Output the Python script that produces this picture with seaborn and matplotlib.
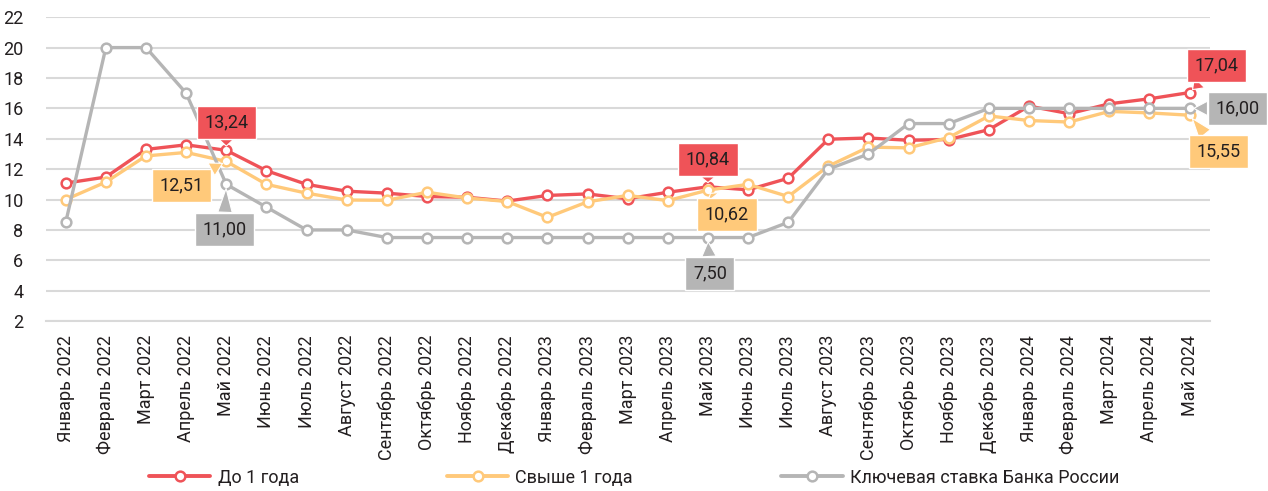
import numpy as np
import pandas as pd
import seaborn as sns
import matplotlib
matplotlib.use("Agg")
import matplotlib.pyplot as plt
from matplotlib.lines import Line2D

# ---------------------------------------------------------------- data
months = ["Январь 2022", "Февраль 2022", "Март 2022", "Апрель 2022", "Май 2022",
          "Июнь 2022", "Июль 2022", "Август 2022", "Сентябрь 2022", "Октябрь 2022",
          "Ноябрь 2022", "Декабрь 2022", "Январь 2023", "Февраль 2023", "Март 2023",
          "Апрель 2023", "Май 2023", "Июнь 2023", "Июль 2023", "Август 2023",
          "Сентябрь 2023", "Октябрь 2023", "Ноябрь 2023", "Декабрь 2023",
          "Январь 2024", "Февраль 2024", "Март 2024", "Апрель 2024", "Май 2024"]

short_term = [11.08, 11.48, 13.30, 13.60, 13.24, 11.90, 11.00, 10.55, 10.42, 10.20,
              10.15, 9.90, 10.27, 10.37, 10.05, 10.48, 10.84, 10.64, 11.40, 13.97,
              14.05, 13.90, 13.95, 14.60, 16.15, 15.65, 16.30, 16.63, 17.04]

long_term = [10.00, 11.15, 12.87, 13.10, 12.51, 11.00, 10.42, 9.97, 9.95, 10.48,
             10.10, 9.87, 8.83, 9.85, 10.27, 9.93, 10.62, 11.00, 10.20, 12.20,
             13.45, 13.40, 14.08, 15.50, 15.20, 15.10, 15.80, 15.70, 15.55]

key_rate = [8.5, 20.0, 20.0, 17.0, 11.0, 9.5, 8.0, 8.0, 7.5, 7.5,
            7.5, 7.5, 7.5, 7.5, 7.5, 7.5, 7.5, 7.5, 8.5, 12.0,
            13.0, 15.0, 15.0, 16.0, 16.0, 16.0, 16.0, 16.0, 16.0]

series_names = ["До 1 года", "Свыше 1 года", "Ключевая ставка Банка России"]
yticks = list(range(2, 23, 2))

# callouts: series index, month index, text, offset in pixels
callouts = [
    (0, 4, "13,24", 0, 28), (1, 4, "12,51", -45, -24), (2, 4, "11,00", -2, -45),
    (0, 16, "10,84", 0, 27), (1, 16, "10,62", 19, -24), (2, 16, "7,50", 2, -36),
    (0, 28, "17,04", 27, 27), (2, 28, "16,00", 48, 0), (1, 28, "15,55", 29, -36),
]

# ---------------------------------------------------------------- style
sns.set_theme(style="white")
plt.rcParams["font.family"] = ["Roboto", "DejaVu Sans"]

colors = ["#EF5358", "#FFC97A", "#B5B5B5"]
text_color = "#231F20"
grid_color = "#D9D9D9"

df = pd.DataFrame({"x": np.arange(len(months)),
                   series_names[0]: short_term,
                   series_names[1]: long_term,
                   series_names[2]: key_rate})

fig, ax = plt.subplots(figsize=(12.68, 4.91), dpi=100)
fig.subplots_adjust(left=0.036, right=0.954, top=0.965, bottom=0.346)

for name, col in zip(series_names, colors):
    sns.lineplot(data=df, x="x", y=name, ax=ax, color=col, lw=2.4,
                 marker="o", markersize=7, markerfacecolor="white",
                 markeredgecolor=col, markeredgewidth=1.8, zorder=3)

vals = [short_term, long_term, key_rate]
for si, mi, txt, dx, dy in callouts:
    col = colors[si]
    ax.annotate(txt, xy=(mi, vals[si][mi]), xytext=(dx, dy),
                textcoords="offset pixels", ha="center", va="center",
                fontsize=13, color=text_color, zorder=5,
                bbox=dict(boxstyle="square,pad=0.42", fc=col, ec="white", lw=1),
                arrowprops=dict(arrowstyle="wedge,tail_width=0.8,shrink_factor=0.5",
                                fc=col, ec="white", lw=0.8, shrinkA=0, shrinkB=3))

# axes
ax.set_xlim(-0.5, len(months) - 0.5)
ax.set_ylim(2, 22)
ax.set_yticks(yticks)
ax.set_yticklabels([str(v) for v in yticks], fontsize=13, color=text_color)
ax.set_xticks(np.arange(len(months)))
ax.set_xticklabels(months, rotation=90, fontsize=13, color=text_color)
ax.set_xticks(np.arange(len(months) + 1) - 0.5, minor=True)
ax.tick_params(axis="x", which="major", length=0, pad=10)
ax.tick_params(axis="x", which="minor", length=10, width=1,
               direction="inout", color=grid_color)
ax.tick_params(axis="y", length=0, pad=16)
ax.yaxis.grid(True, color=grid_color, lw=1.5)
ax.xaxis.grid(False)
ax.set_axisbelow(True)
ax.set_xlabel("")
ax.set_ylabel("")
for side in ["left", "right", "top"]:
    ax.spines[side].set_visible(False)
ax.spines["bottom"].set_color(grid_color)
ax.spines["bottom"].set_linewidth(1.5)

# legend
handles = [Line2D([0], [0], color=c, lw=2.8, marker="o", markersize=7,
                  markerfacecolor="white", markeredgecolor=c, markeredgewidth=1.8)
           for c in colors]
fig.legend(handles, series_names, loc="center", bbox_to_anchor=(0.5, 0.027),
           ncol=3, frameon=False, fontsize=13, handlelength=3.4,
           columnspacing=8.2, handletextpad=0.4, labelcolor=text_color)

fig.savefig("out.png", dpi=100)
